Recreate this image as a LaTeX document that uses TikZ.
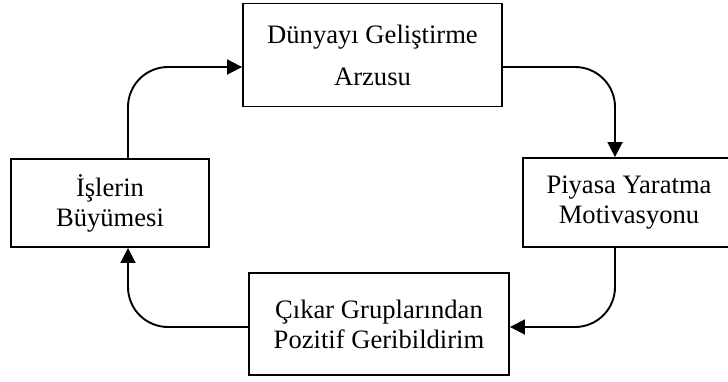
\documentclass[tikz,border=0pt]{standalone}
\usepackage{fontspec}
\setmainfont{Liberation Serif}
\usetikzlibrary{arrows.meta}

\begin{document}
\begin{tikzpicture}[x=1pt, y=-1pt]
  % Styling
  \tikzset{
    box/.style={
      rectangle,
      draw=black,
      line width=1.9pt,
      inner sep=0pt,
      align=center,
      font=\fontsize{26.6}{30}\selectfont
    },
    flow/.style={
      -{Triangle[length=15pt, width=15pt]},
      line width=1.9pt,
      rounded corners=40pt,
      black
    }
  }

  % Page frame
  \useasboundingbox (0,0) rectangle (728,381);
  \clip (0,0) rectangle (728,381);

  % ===== Boxes =====
  \node[box, minimum width=259pt, minimum height=103pt] (dunya) at (372.5, 55)
    {Dünyayı Geliştirme\\[12pt]Arzusu};
  \node[box, minimum width=212pt, minimum height=89pt] (piyasa) at (629, 202.5)
    {Piyasa Yaratma\\Motivasyonu};
  \node[box, minimum width=260pt, minimum height=102pt] (cikar) at (379, 324)
    {Çıkar Gruplarından\\Pozitif Geribildirim};
  \node[box, minimum width=198pt, minimum height=88pt] (isler) at (110, 203)
    {İşlerin\\Büyümesi};

  % ===== Cycle =====
  \draw[flow] ([xshift=18pt]isler.north) |- ([yshift=-12pt]dunya.west);
  \draw[flow] ([yshift=-12pt]dunya.east) -| ([xshift=-14pt]piyasa.north);
  \draw[flow] ([xshift=-14pt]piyasa.south) |- ([yshift=-3pt]cikar.east);
  \draw[flow] ([yshift=-3pt]cikar.west) -| ([xshift=18pt]isler.south);

\end{tikzpicture}
\end{document}
